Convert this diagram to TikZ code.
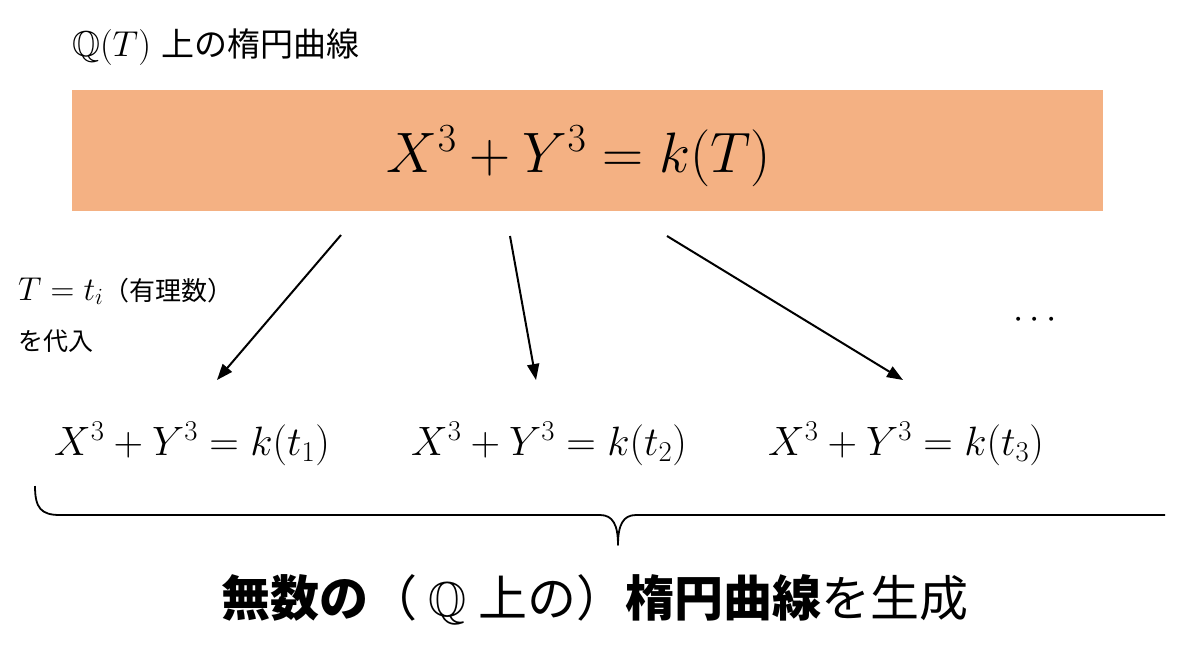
\documentclass[tikz,border=0pt]{standalone}
\usepackage{fix-cm}
\usepackage{amssymb}
\usepackage{fontspec}
\newfontfamily\jp{Noto Sans CJK JP}
\usetikzlibrary{arrows.meta}
\definecolor{boxfill}{HTML}{F4B183}
\begin{document}
\begin{tikzpicture}[x=1pt,y=-1pt,
  lbl/.style={inner sep=0pt, outer sep=0pt},
  arr/.style={line width=2pt, -{Triangle[length=16pt,width=12pt]}},
  bracestyle/.style={line width=1.8pt, line join=round}]
\useasboundingbox (0,0) rectangle (1200,649);
\node[lbl, anchor=base west] (title) at (72,56) {\fontsize{36}{40}\selectfont$\mathbb{Q}(T)$ {\jp\fontsize{33}{36}\selectfont 上の楕円曲線}};
\node[lbl, fill=boxfill, minimum width=1031pt, minimum height=121pt] (box) at (587.5,150.5) {};
\node[lbl, anchor=base] (eq) at (579,172) {\fontsize{57}{62}\selectfont $X^3+Y^3=k(T)$};
\node[lbl, anchor=base west] (subst) at (18,300) {\fontsize{33}{38}\selectfont $T=t_i$\jp\fontsize{26}{30}\selectfont （有理数）};
\node[lbl, anchor=west] (subst2) at (18,341) {\jp\fontsize{25}{30}\selectfont を代入};
\node[lbl, anchor=base] (e1) at (192,455) {\fontsize{41}{46}\selectfont $X^3+Y^3=k(t_1)$};
\node[lbl, anchor=base] (e2) at (549,455) {\fontsize{41}{46}\selectfont $X^3+Y^3=k(t_2)$};
\node[lbl, anchor=base] (e3) at (906,455) {\fontsize{41}{46}\selectfont $X^3+Y^3=k(t_3)$};
\node[lbl, anchor=base] (dots) at (1035,328) {\fontsize{37}{42}\selectfont $\cdots$};
\node[lbl] (gen) at (595,600) {\jp\fontsize{49}{56}\selectfont {\bfseries 無数の}（ $\mathbb{Q}$ 上の）{\bfseries 楕円曲線}を生成};
\coordinate (s1) at (341,235);
\coordinate (t1) at (217,380);
\coordinate (s2) at (510,236);
\coordinate (t2) at (536,380);
\coordinate (s3) at (667,236);
\coordinate (t3) at (903,380);
\draw[arr] (s1) -- (t1);
\draw[arr] (s2) -- (t2);
\draw[arr] (s3) -- (t3);
\coordinate (bl) at (35,486);
\coordinate (bm) at (618,545);
\coordinate (br) at (1165,515);
\draw[bracestyle] (bl) .. controls (35,508) and (41,515) .. (60,515) -- (600,515) .. controls (613,515) and (618,525) .. (bm) .. controls (618,525) and (623,515) .. (636,515) -- (br);
\end{tikzpicture}
\end{document}
